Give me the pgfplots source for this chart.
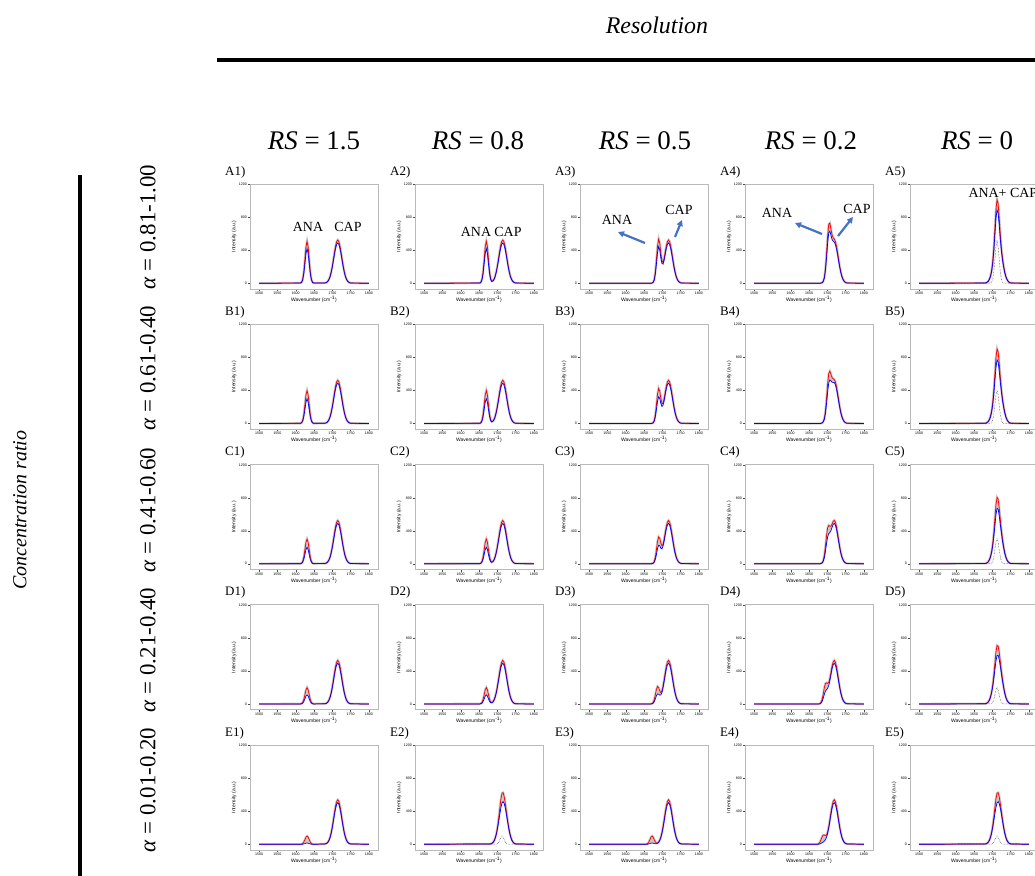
\documentclass[border=0pt]{standalone}
\usepackage{fontspec}
\setmainfont{Liberation Serif}
\newfontfamily\sansf{Liberation Sans}
\usepackage{pgfplots}
\pgfplotsset{compat=1.18}
\usepackage{pgfplotstable}
\usepgfplotslibrary{fillbetween}
\usetikzlibrary{arrows.meta}

% Column 1 (RS = 1.5)
\pgfplotstableread{
x rA bA rB bB rC bC rD bD rE bE
1500 0 0 0 0 0 0 0 0 0 0
1613 3 2 2 2 2 1 1 1 0 0
1616 12 10 10 7 7 5 5 3 2 0
1619 47 39 37 28 28 19 19 10 9 1
1622 134 110 105 79 79 52 52 29 26 4
1625 282 232 221 166 166 110 110 61 55 8
1628 440 362 345 259 259 172 172 95 86 13
1631 510 420 400 300 300 200 200 110 100 15
1634 440 362 345 259 259 172 172 95 86 13
1637 282 232 221 166 166 110 110 61 55 8
1640 134 110 105 79 79 52 52 29 26 4
1643 47 39 37 28 28 19 19 10 9 1
1646 12 10 10 7 7 5 5 3 2 0
1649 3 2 2 2 2 1 1 1 0 0
1679 3 2 3 2 3 2 3 2 3 3
1682 6 5 6 5 6 5 6 5 6 6
1685 13 12 13 12 13 12 13 12 13 12
1688 26 24 26 24 26 24 26 24 26 25
1691 49 46 49 46 49 46 49 46 50 47
1694 85 79 85 79 85 79 86 80 87 82
1697 138 128 138 128 138 128 139 130 141 132
1700 207 194 207 194 207 194 209 196 213 199
1703 290 270 290 270 290 270 293 273 298 279
1706 376 351 376 351 376 351 379 354 387 362
1709 453 422 453 422 453 422 457 427 465 435
1712 506 472 506 472 506 472 510 477 520 486
1715 525 490 525 490 525 490 530 495 540 505
1718 506 472 506 472 506 472 510 477 520 486
1721 453 422 453 422 453 422 457 427 465 435
1724 376 351 376 351 376 351 379 354 387 362
1727 290 270 290 270 290 270 293 273 298 279
1730 207 194 207 194 207 194 209 196 213 199
1733 138 128 138 128 138 128 139 130 141 132
1736 85 79 85 79 85 79 86 80 87 82
1739 49 46 49 46 49 46 49 46 50 47
1742 26 24 26 24 26 24 26 24 26 25
1745 13 12 13 12 13 12 13 12 13 12
1748 6 5 6 5 6 5 6 5 6 6
1751 3 2 3 2 3 2 3 2 3 3
1800 0 0 0 0 0 0 0 0 0 0
}\tabI

% Column 2 (RS = 0.8), rows A-D
\pgfplotstableread{
x rA bA rB bB rC bC rD bD
1500 0 0 0 0 0 0 0 0
1652 3 2 2 2 2 1 1 1
1655 12 10 10 7 7 5 5 3
1658 47 39 37 28 28 19 19 10
1661 134 110 105 79 79 52 52 29
1664 282 232 221 166 166 110 110 61
1667 440 362 345 259 259 172 172 95
1670 510 420 400 300 300 200 200 110
1673 440 362 345 259 259 172 172 95
1676 282 232 221 166 166 110 110 61
1679 137 112 108 81 82 54 55 31
1682 53 44 43 33 34 24 25 15
1685 25 22 23 19 20 17 18 15
1688 29 26 28 26 28 25 27 25
1691 49 46 49 46 49 46 49 46
1694 85 79 85 79 85 79 86 80
1697 138 128 138 128 138 128 139 130
1700 207 194 207 194 207 194 209 196
1703 290 270 290 270 290 270 293 273
1706 376 351 376 351 376 351 379 354
1709 453 422 453 422 453 422 457 427
1712 506 472 506 472 506 472 510 477
1715 525 490 525 490 525 490 530 495
1718 506 472 506 472 506 472 510 477
1721 453 422 453 422 453 422 457 427
1724 376 351 376 351 376 351 379 354
1727 290 270 290 270 290 270 293 273
1730 207 194 207 194 207 194 209 196
1733 138 128 138 128 138 128 139 130
1736 85 79 85 79 85 79 86 80
1739 49 46 49 46 49 46 49 46
1742 26 24 26 24 26 24 26 24
1745 13 12 13 12 13 12 13 12
1748 6 5 6 5 6 5 6 5
1751 3 2 3 2 3 2 3 2
1800 0 0 0 0 0 0 0 0
}\tabII

% Column 3 (RS = 0.5)
\pgfplotstableread{
x rA bA rB bB rC bC rD bD rE bE
1500 0 0 0 0 0 0 0 0 0 0
1654 0 0 0 0 0 0 0 0 0 0
1657 0 0 0 0 0 0 0 0 2 0
1660 0 0 0 0 0 0 0 0 9 1
1663 0 0 0 0 0 0 0 0 26 4
1666 0 0 0 0 0 0 0 0 55 8
1669 0 0 0 0 0 0 1 1 86 13
1672 3 2 2 2 2 1 5 3 100 15
1675 12 10 10 7 7 5 19 10 86 13
1678 47 39 37 28 28 19 52 29 55 8
1681 137 112 108 81 82 54 113 63 29 7
1684 288 237 227 171 172 115 178 100 15 7
1687 453 374 358 271 272 184 213 122 15 12
1690 536 444 426 324 326 224 198 119 26 25
1693 489 408 394 305 308 218 159 107 50 47
1696 367 311 306 245 251 189 138 109 87 82
1699 272 238 243 207 217 180 158 140 141 132
1702 254 233 244 222 235 213 214 199 213 199
1705 302 280 300 277 297 275 294 274 298 279
1708 379 353 378 353 378 352 379 354 387 362
1711 453 422 453 422 453 422 457 427 465 435
1714 506 472 506 472 506 472 510 477 520 486
1717 525 490 525 490 525 490 530 495 540 505
1720 506 472 506 472 506 472 510 477 520 486
1723 453 422 453 422 453 422 457 427 465 435
1726 376 351 376 351 376 351 379 354 387 362
1729 290 270 290 270 290 270 293 273 298 279
1732 207 194 207 194 207 194 209 196 213 199
1735 138 128 138 128 138 128 139 130 141 132
1738 85 79 85 79 85 79 86 80 87 82
1741 49 46 49 46 49 46 49 46 50 47
1744 26 24 26 24 26 24 26 24 26 25
1747 13 12 13 12 13 12 13 12 13 12
1750 6 5 6 5 6 5 6 5 6 6
1753 3 2 3 2 3 2 3 2 3 3
1800 0 0 0 0 0 0 0 0 0 0
}\tabIII

% Column 4 (RS = 0.2)
\pgfplotstableread{
x rA bA rB bB rC bC rD bD rE bE
1500 0 0 0 0 0 0 0 0 0 0
1671 0 0 0 0 0 0 0 0 0 0
1674 0 0 0 0 0 0 0 0 2 0
1677 0 0 0 0 0 0 1 1 9 1
1680 0 0 0 0 0 0 5 3 26 4
1683 3 2 3 2 5 3 22 12 58 11
1686 9 7 8 7 13 10 58 34 92 19
1689 25 22 23 19 41 31 123 73 113 27
1692 73 63 63 52 105 76 198 119 112 38
1695 183 156 154 125 215 156 249 156 105 55
1698 367 311 306 245 344 251 258 175 113 86
1701 578 490 483 387 438 328 249 191 150 133
1704 717 614 607 494 466 366 261 225 215 199
1707 730 632 635 529 456 380 312 283 298 279
1710 658 583 597 517 455 403 384 357 387 362
1713 587 532 558 501 481 441 458 428 465 435
1716 553 511 543 500 513 477 510 477 520 486
1719 537 500 535 497 527 491 530 495 540 505
1722 509 474 508 474 506 472 510 477 520 486
1725 453 422 453 422 453 422 457 427 465 435
1728 376 351 376 351 376 351 379 354 387 362
1731 290 270 290 270 290 270 293 273 298 279
1734 207 194 207 194 207 194 209 196 213 199
1737 138 128 138 128 138 128 139 130 141 132
1740 85 79 85 79 85 79 86 80 87 82
1743 49 46 49 46 49 46 49 46 50 47
1746 26 24 26 24 26 24 26 24 26 25
1749 13 12 13 12 13 12 13 12 13 12
1752 6 5 6 5 6 5 6 5 6 6
1755 3 2 3 2 3 2 3 2 3 3
1800 0 0 0 0 0 0 0 0 0 0
}\tabIV

% Column 5 (RS = 0) and E2; a* = ANA component (dotted)
\pgfplotstableread{
x rA bA aA rB bB aB rC bC aC rD bD aD rE bE aE
1500 0 0 0 0 0 0 0 0 0 0 0 0 0 0 0
1680 3 2 0 3 2 0 3 2 0 3 2 0 3 3 0
1683 6 5 0 6 5 0 6 5 0 6 5 0 6 6 0
1686 13 12 0 13 12 0 13 12 0 13 12 0 13 12 0
1689 26 24 0 26 24 0 26 24 0 26 24 0 26 25 0
1692 49 46 0 49 46 0 49 46 0 49 46 0 50 47 0
1695 88 81 3 87 81 2 87 80 2 87 81 1 87 82 0
1698 150 138 12 148 135 10 145 133 7 144 133 5 143 132 2
1701 254 233 47 244 222 37 235 213 28 228 206 19 222 200 9
1704 424 380 134 395 349 105 369 322 79 345 302 52 324 283 26
1707 658 583 282 597 517 221 542 461 166 489 415 110 442 370 55
1710 893 784 440 798 681 345 712 594 259 629 522 172 551 448 86
1713 1016 892 510 906 772 400 806 672 300 710 587 200 620 501 100
1716 965 852 440 870 749 345 784 662 259 702 590 172 626 518 86
1719 788 704 282 727 638 221 672 582 166 620 538 110 575 494 55
1722 587 532 134 558 501 105 532 474 79 509 456 52 491 439 26
1725 423 390 47 413 379 37 404 370 28 398 364 19 396 363 9
1728 302 280 12 300 277 10 297 275 7 298 276 5 300 279 2
1731 210 196 3 209 196 2 209 195 2 210 197 1 213 199 0
1734 138 128 0 138 128 0 138 128 0 139 130 0 141 132 0
1737 85 79 0 85 79 0 85 79 0 86 80 0 87 82 0
1740 49 46 0 49 46 0 49 46 0 49 46 0 50 47 0
1743 26 24 0 26 24 0 26 24 0 26 24 0 26 25 0
1746 13 12 0 13 12 0 13 12 0 13 12 0 13 12 0
1749 6 5 0 6 5 0 6 5 0 6 5 0 6 6 0
1752 3 2 0 3 2 0 3 2 0 3 2 0 3 3 0
1800 0 0 0 0 0 0 0 0 0 0 0 0 0 0 0
}\tabV

\newcommand\tickfont{\sansf\fontsize{3.6}{4}\selectfont}
\newcommand\labfont{\sansf\fontsize{5}{6}\selectfont}
\definecolor{arrblue}{HTML}{4472C4}

\pgfplotsset{pan/.style={
  anchor=north west, width=128bp, height=105bp, scale only axis,
  xmin=1475, xmax=1825, ymin=-70, ymax=1205,
  xtick={1500,1550,1600,1650,1700,1750,1800}, ytick={0,400,800,1200},
  tick align=outside, tick pos=left, major tick length=2bp,
  axis line style={gray!55, line width=0.9bp},
  tick style={black!70, line width=0.4bp},
  ticklabel style={font=\tickfont, inner sep=1bp},
  /pgf/number format/assume math mode=true,
  /pgf/number format/1000 sep={},
  scaled ticks=false,
  xlabel={Wavenumber (cm\textsuperscript{-1})},
  ylabel={Intensity (a.u.)},
  label style={font=\labfont},
  xlabel style={yshift=3bp},
  ylabel style={yshift=-2bp},
}}

\newcommand\dotcomp[1]{\addplot[black!80, densely dotted, line width=0.5bp] table[x=x,y=#1]{\tabV};}

% #1 x-left, #2 y-top, #3 label, #4 table, #5 red col, #6 blue col, #7 extra
\newcommand\panel[7]{%
  \begin{axis}[pan, at={(#1bp,-#2bp)}]
    \addplot[gray!40, line width=2.4bp, name path=rr] table[x=x,y=#5]{#4};
    \addplot[draw=none, name path=bb] table[x=x,y=#6]{#4};
    \addplot[fill=gray!45, draw=none] fill between[of=rr and bb];
    #7
    \addplot[red, line width=0.75bp] table[x=x,y=#5]{#4};
    \addplot[blue, line width=0.7bp] table[x=x,y=#6]{#4};
  \end{axis}
  \node[anchor=west, inner sep=0pt, font=\fontsize{13}{13}\selectfont] at ({#1bp-25bp},{-#2bp+12bp}) {#3};
}

\begin{document}
\begin{tikzpicture}

% row A
\panel{250}{184}{A1)}{\tabI}{rA}{bA}{}
\panel{415}{184}{A2)}{\tabII}{rA}{bA}{}
\panel{580}{184}{A3)}{\tabIII}{rA}{bA}{}
\panel{745}{184}{A4)}{\tabIV}{rA}{bA}{}
\panel{910}{184}{A5)}{\tabV}{rA}{bA}{\dotcomp{aA}}
% row B
\panel{250}{324.25}{B1)}{\tabI}{rB}{bB}{}
\panel{415}{324.25}{B2)}{\tabII}{rB}{bB}{}
\panel{580}{324.25}{B3)}{\tabIII}{rB}{bB}{}
\panel{745}{324.25}{B4)}{\tabIV}{rB}{bB}{}
\panel{910}{324.25}{B5)}{\tabV}{rB}{bB}{\dotcomp{aB}}
% row C
\panel{250}{464.5}{C1)}{\tabI}{rC}{bC}{}
\panel{415}{464.5}{C2)}{\tabII}{rC}{bC}{}
\panel{580}{464.5}{C3)}{\tabIII}{rC}{bC}{}
\panel{745}{464.5}{C4)}{\tabIV}{rC}{bC}{}
\panel{910}{464.5}{C5)}{\tabV}{rC}{bC}{\dotcomp{aC}}
% row D
\panel{250}{604.75}{D1)}{\tabI}{rD}{bD}{}
\panel{415}{604.75}{D2)}{\tabII}{rD}{bD}{}
\panel{580}{604.75}{D3)}{\tabIII}{rD}{bD}{}
\panel{745}{604.75}{D4)}{\tabIV}{rD}{bD}{}
\panel{910}{604.75}{D5)}{\tabV}{rD}{bD}{\dotcomp{aD}}
% row E
\panel{250}{745}{E1)}{\tabI}{rE}{bE}{}
\panel{415}{745}{E2)}{\tabV}{rE}{bE}{\dotcomp{aE}}
\panel{580}{745}{E3)}{\tabIII}{rE}{bE}{}
\panel{745}{745}{E4)}{\tabIV}{rE}{bE}{}
\panel{910}{745}{E5)}{\tabV}{rE}{bE}{\dotcomp{aE}}

\begin{scope}[x=1bp, y=-1bp]
% headings and frame lines
\node[font=\fontsize{24}{24}\selectfont\itshape] at (657,25) {Resolution};
\draw[line width=4bp] (217,60) -- (1045,60);
\draw[line width=4bp] (80,175) -- (80,885);
\node[rotate=90, font=\fontsize{20}{20}\selectfont\itshape] at (20,510) {Concentration ratio};

\foreach \xx/\tt in {314/1.5, 478/0.8, 645/0.5, 811/0.2, 977/0}
  \node[font=\fontsize{27}{27}\selectfont] at (\xx,141) {\textit{RS} = \tt};

\node[rotate=90, font=\fontsize{23}{23}\selectfont] at (148,227) {\textit{α} = 0.81-1.00};
\node[rotate=90, font=\fontsize{23}{23}\selectfont] at (148,368) {\textit{α} = 0.61-0.40};
\node[rotate=90, font=\fontsize{23}{23}\selectfont] at (148,510) {\textit{α} = 0.41-0.60};
\node[rotate=90, font=\fontsize{23}{23}\selectfont] at (148,650) {\textit{α} = 0.21-0.40};
\node[rotate=90, font=\fontsize{23}{23}\selectfont] at (148,790) {\textit{α} = 0.01-0.20};

% annotations
\begin{scope}[font=\fontsize{14}{14}\selectfont]
\node at (308,227) {ANA};
\node at (348,227) {CAP};
\node at (476,232) {ANA};
\node at (508,232) {CAP};
\node at (617,220) {ANA};
\node at (679,210) {CAP};
\node at (777,213) {ANA};
\node at (857,209) {CAP};
\node[anchor=west] at (965,193) {ANA+ CAP};
\end{scope}
\begin{scope}[arrblue, line width=2.2bp, -{Triangle[length=6bp,width=6bp]}]
\draw (645,243) -- (618,232);
\draw (675,237) -- (682,220);
\draw (822,234) -- (795,223);
\draw (838,236) -- (853,217);
\end{scope}
\end{scope}
\pgfresetboundingbox
\path (0bp,0bp) rectangle (1035bp,-876bp);
\end{tikzpicture}
\end{document}
